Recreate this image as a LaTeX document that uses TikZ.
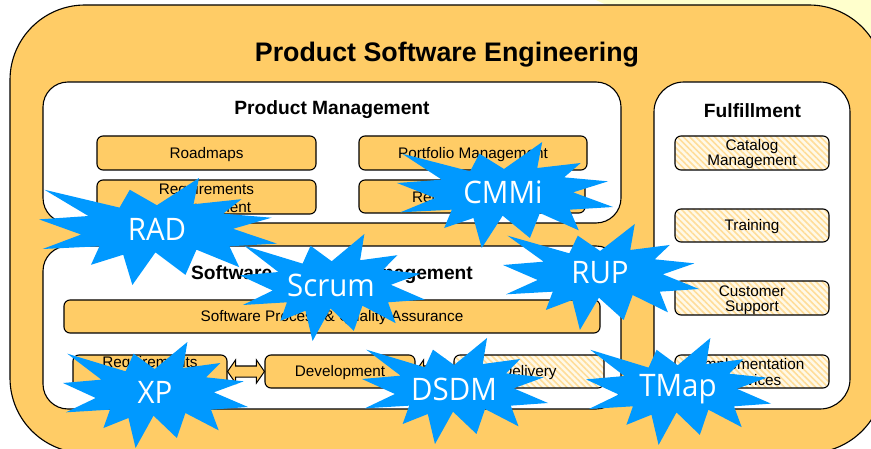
\documentclass[tikz,border=0pt]{standalone}
\usepackage{fontspec}
\setmainfont{Liberation Sans}
\newfontfamily\starfont[FakeStretch=0.95]{Open Sans}
\usetikzlibrary{patterns.meta,calc}
\definecolor{orangefill}{HTML}{FFCC66}
\definecolor{paleyellow}{HTML}{FFFFCC}
\definecolor{starblue}{HTML}{0099FF}
\definecolor{hatchorange}{HTML}{FFDD99}
\definecolor{hatchback}{HTML}{FFF9E8}
\tikzset{
  outerbox/.style={draw=black,line width=1.1pt,fill=orangefill,rounded corners=75pt},
  panel/.style={draw=black,line width=1.1pt,fill=white,inner sep=0pt},
  subbox/.style={draw=black,line width=1.1pt,fill=orangefill,rounded corners=6pt,inner sep=0pt},
  hatchbox/.style={draw=black,line width=1.1pt,rounded corners=6pt,inner sep=0pt,preaction={fill=hatchback},preaction={pattern={Lines[angle=-45,distance=4.4pt,line width=1.6pt]},pattern color=hatchorange}},
  boxtext/.style={inner sep=0pt,align=center,font=\fontsize{15.3}{15}\selectfont},
  heading/.style={font=\fontsize{19.2}{22}\selectfont\bfseries,inner sep=0pt},
  blockarrow/.style={draw=black,line width=1pt,fill=orangefill,line join=miter},
  burst/.style={fill=starblue,draw=none},
  bursttext/.style={text=white,inner sep=0pt,font=\starfont\fontsize{31}{33}\selectfont}
}
% #1 name, #2 centre x, #3 centre y, #4 half width, #5 half height, #6 text x, #7 text y, #8 label
\newcommand{\starburst}[8]{%
  \path[burst,shift={(#2,#3)},xscale=#4/325,yscale=#5/159]
    (-310,-124) -- (-105,-71) -- (-77,-124) -- (-3,-78) -- (112,-159) -- (97,-81)
    -- (228,-96) -- (178,-53) -- (310,-41) -- (205,-8) -- (325,36) -- (195,44)
    -- (222,106) -- (105,54) -- (75,129) -- (-7,62) -- (-70,159) -- (-95,69)
    -- (-183,99) -- (-160,44) -- (-315,52) -- (-210,9) -- (-325,-36) -- (-190,-46) -- cycle;
  \node[bursttext] (#1) at (#6,#7) {#8};%
}
% block double arrow spanning from node #1 east to node #2 west
\newcommand{\blockdouble}[2]{%
  \draw[blockarrow] (#1.east) -- ++(8,-11.5) -- ++(0,6) -- ($(#2.west)+(-8,-5.5)$) -- ++(0,-6)
    -- (#2.west) -- ++(-8,11.5) -- ++(0,-6) -- ($(#1.east)+(8,5.5)$) -- ++(0,6) -- cycle;%
}
\begin{document}
\begin{tikzpicture}[x=1pt,y=-1pt]
\useasboundingbox (0,0) rectangle (871,449);
\clip (0,0) rectangle (871,449);
\fill[white] (0,0) rectangle (871,449);
\fill[paleyellow] (596,0) -- (871,0) -- (871,130) -- cycle;
\draw[outerbox] (10,5) rectangle (884,453);
\node[font=\fontsize{26.8}{30}\selectfont\bfseries,inner sep=0pt] (title) at (447,55) {Product Software Engineering};

\node[panel,rounded corners=25pt,minimum width=578pt,minimum height=141pt] (pm) at (332,152.5) {};
\node[panel,rounded corners=25pt,minimum width=578pt,minimum height=163pt] (sm) at (332,327.5) {};
\node[panel,rounded corners=30pt,minimum width=196pt,minimum height=327pt] (ff) at (752,245.5) {};

\node[heading] (pmt) at (332,110) {Product Management};
\node[heading] (smt) at (332,275) {Software Product Management};
\node[heading] (fft) at (752.5,111) {Fulfillment};

\node[subbox,minimum width=219pt,minimum height=34pt] (road) at (206.5,153) {};
\node[boxtext] (roadt) at (206.5,155) {Roadmaps};
\node[subbox,minimum width=219pt,minimum height=34pt] (reqm) at (206.5,197) {};
\node[boxtext,font=\fontsize{15.3}{18}\selectfont] (reqmt) at (206.5,199.5) {Requirements\\Management};
\node[subbox,minimum width=228pt,minimum height=34pt] (port) at (473,153) {};
\node[boxtext] (portt) at (473,155) {Portfolio Management};
\node[subbox,minimum width=226pt,minimum height=33pt] (rel) at (472,196.5) {};
\node[boxtext] (relt) at (472,198.5) {Release Planning};

\node[subbox,minimum width=536pt,minimum height=33pt] (spqa) at (332,316.5) {};
\node[boxtext] (spqat) at (332,318) {Software Process \& Quality Assurance};
\node[subbox,minimum width=154pt,minimum height=33pt] (reqe) at (150,371.5) {};
\node[boxtext,font=\fontsize{15.3}{18}\selectfont] (reqet) at (150,373) {Requirements\\Engineering};
\node[subbox,minimum width=150pt,minimum height=33pt] (dev) at (340,371.5) {};
\node[boxtext] (devt) at (340,373) {Development};
\node[hatchbox,minimum width=150pt,minimum height=33pt] (del) at (529,371.5) {};
\node[boxtext] (delt) at (529,373) {Delivery};
\blockdouble{reqe}{dev}
\blockdouble{dev}{del}

\node[hatchbox,minimum width=154pt,minimum height=34pt] (cat) at (752,153) {};
\node[boxtext] (catt) at (752,154) {Catalog\\Management};
\node[hatchbox,minimum width=154pt,minimum height=33pt] (train) at (752,225.5) {};
\node[boxtext] (traint) at (752,226.5) {Training};
\node[hatchbox,minimum width=154pt,minimum height=34pt] (cust) at (752,298) {};
\node[boxtext] (custt) at (752,300) {Customer\\Support};
\node[hatchbox,minimum width=154pt,minimum height=33pt] (impl) at (752,371.5) {};
\node[boxtext,font=\fontsize{15.3}{16}\selectfont] (implt) at (752,372.5) {Implementation\\Services};

\starburst{rad}{158}{231.5}{119}{53.5}{157}{229}{RAD}
\starburst{cmmi}{505}{195}{108}{53}{503}{192}{CMMi}
\starburst{rup}{601}{277}{98}{53}{600}{273}{RUP}
\starburst{scrum}{332.5}{287.5}{92.5}{53.5}{331}{285}{Scrum}
\starburst{xp}{155.5}{395}{92.5}{53}{155}{392}{XP}
\starburst{dsdm}{455}{391}{93}{53}{454}{389}{DSDM}
\starburst{tmap}{678.5}{391.5}{92.5}{53.5}{678}{389}{TMap}
\end{tikzpicture}
\end{document}
